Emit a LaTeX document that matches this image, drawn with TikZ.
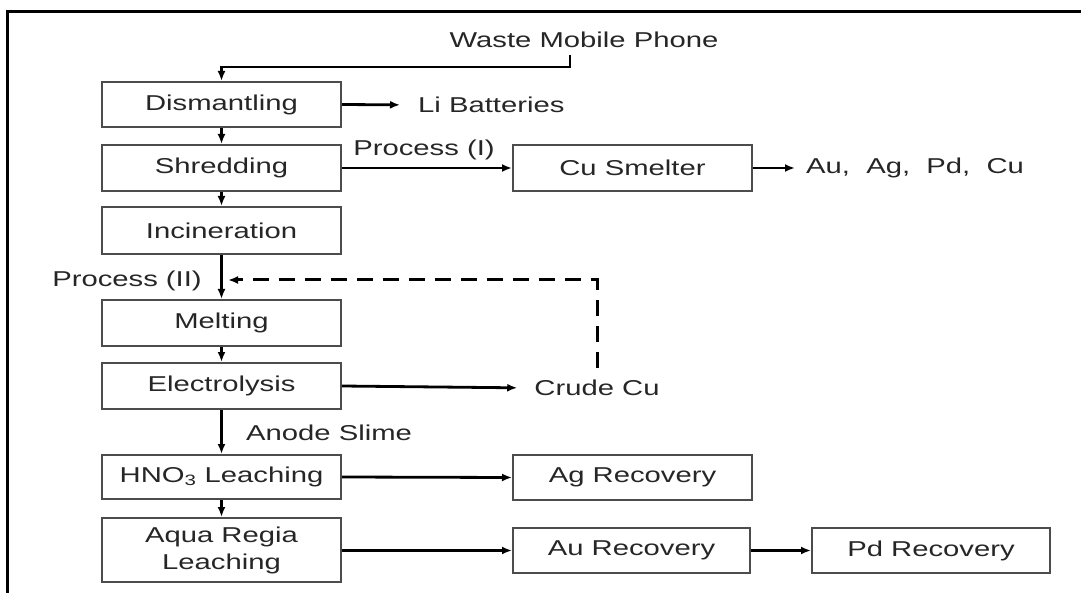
\documentclass[tikz,border=0pt]{standalone}
\usepackage{fontspec}
\setmainfont{Liberation Sans}[FakeStretch=1.36]
\usetikzlibrary{arrows.meta,calc}
\begin{document}
\begin{tikzpicture}[x=1bp,y=-1bp,
  font=\fontsize{21.5bp}{27bp}\selectfont,
  every node/.style={text=black!85},
  box/.style={draw=black!70,line width=2bp,minimum width=239bp,minimum height=45bp,inner sep=0pt,align=center},
  lbl/.style={inner sep=0pt},
  arr/.style={line width=2.8bp,-{Latex[length=10bp,width=8bp]}},
  darr/.style={line width=3bp,dash pattern=on 16bp off 10bp,-{Latex[length=10bp,width=8bp]}}]
\useasboundingbox (0,0) rectangle (1081,593);
% frame
\draw[line width=3bp] (7,593) -- (7,11.5) -- (1081,11.5);
% main column
\node[box] (dis) at (221.5,104.5) {Dismantling};
\node[box,minimum height=46bp] (shr) at (221.5,168) {Shredding};
\node[box,minimum height=47bp] (inc) at (221.5,230.5) {Incineration};
\node[box,minimum height=46bp] (mel) at (221.5,323) {Melting};
\node[box,minimum height=46bp] (ele) at (221.5,386) {Electrolysis};
\node[box,minimum height=44bp] (hno) at (221.5,477) {HNO\textsubscript{3} Leaching};
\node[box,minimum height=64bp] (aqr) at (221.5,550) {Aqua Regia\\Leaching};
% right boxes
\node[box,minimum height=46bp] (cus) at (632.5,168) {Cu Smelter};
\node[box] (agr) at (632.5,477.5) {Ag Recovery};
\node[box,minimum width=237bp] (aur) at (631.5,550.5) {Au Recovery};
\node[box,minimum width=238bp] (pdr) at (931,550.5) {Pd Recovery};
% labels
\node[lbl] (wmp) at (584,40) {Waste Mobile Phone};
\node[lbl,anchor=west] (lib) at (418,105) {Li Batteries};
\node[lbl] (pi) at (424,150) {Process (I)};
\node[lbl,anchor=west] (met) at (806,168) {Au,\ \ Ag,\ \ Pd,\ \ Cu};
\node[lbl] (pii) at (127,281) {Process (II)};
\node[lbl] (crude) at (597,388) {Crude Cu};
\node[lbl,anchor=west] (ano) at (246,433) {Anode Slime};
% coordinates
\coordinate (w1) at (570,55);
\coordinate (dtip) at (228,280);
% connectors
\draw[arr] (w1) -- ++(0,12) -| (dis.north);
\draw[arr] (dis) -- (shr);
\draw[arr] (shr) -- (inc);
\draw[arr] (inc) -- (mel);
\draw[arr] (mel) -- (ele);
\draw[arr] (ele) -- (hno);
\draw[arr] (hno) -- (aqr);
\draw[arr,shorten >=18bp] (dis.east) -- (lib.west);
\draw[arr] (shr.east) -- (cus.west);
\draw[arr,shorten >=11bp] (cus.east) -- (met.west);
\draw[arr,shorten >=17bp] (ele.east) -- (crude.west);
\draw[darr,shorten <=12bp] (crude.north) |- (dtip);
\draw[arr] (hno.east) -- (agr.west);
\draw[arr] (aqr.east |- aur.west) -- (aur.west);
\draw[arr] (aur.east) -- (pdr.west);
\end{tikzpicture}
\end{document}
